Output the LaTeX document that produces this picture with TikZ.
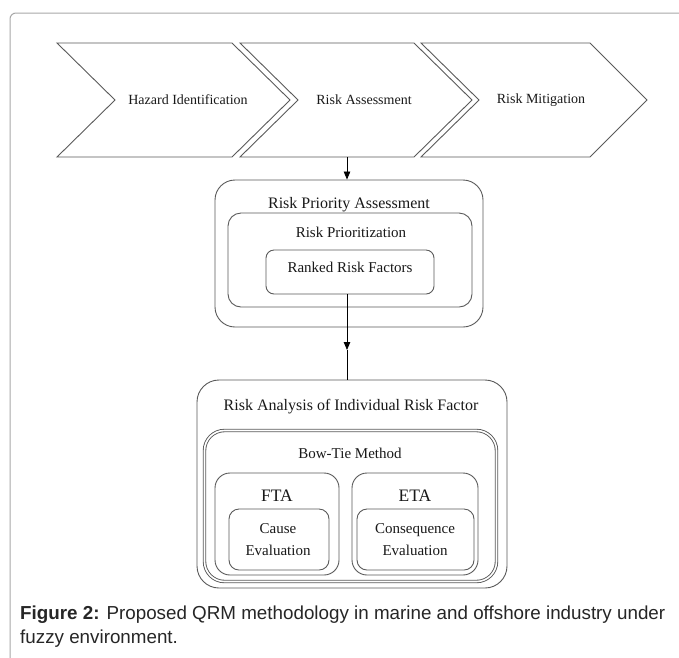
\documentclass[tikz,border=0pt]{standalone}
\usepackage{fontspec}
\setmainfont{Liberation Serif}
\newfontfamily\capfont{Liberation Sans}
\usetikzlibrary{arrows.meta}
\definecolor{edge}{HTML}{5A5A5A}
\definecolor{framec}{HTML}{A8A8A8}
\tikzset{
  chev/.style={draw=edge, line width=0.9pt, line join=miter},
  box/.style={draw=edge, line width=0.9pt, rectangle, inner sep=0pt},
  ttl/.style={inner sep=0pt, text=black!90},
  arr/.style={draw=black, line width=0.8pt, -{Triangle[length=8pt,width=6.5pt]}},
  plain/.style={draw=black, line width=0.8pt},
}
\newcommand{\fs}[1]{\fontsize{#1}{#1}\selectfont}
\begin{document}
\begin{tikzpicture}[x=1pt,y=-1pt]
\useasboundingbox (0,0) rectangle (679,657);
\fill[white] (0,0) rectangle (679,657);
\begin{scope}
  \clip (0,0) rectangle (679,657);
  \draw[framec, line width=1pt, rounded corners=6pt] (10,700) -- (10,13) -- (720,13);
\end{scope}

% chevrons
\draw[chev] (57,43) -- (232,43) -- (290,100) -- (232,157) -- (57,157) -- (115,100) -- cycle;
\draw[chev] (240,43) -- (414,43) -- (472,100) -- (414,157) -- (240,157) -- (298,100) -- cycle;
\draw[chev] (421,43) -- (590,43) -- (647,100) -- (590,157) -- (421,157) -- (479,100) -- cycle;
\node[ttl, font=\fs{14}] (hz) at (188,100) {Hazard Identification};
\node[ttl, font=\fs{14}] (ra1) at (364,100) {Risk Assessment};
\node[ttl, font=\fs{14}] (rm) at (541,100) {Risk Mitigation};
\coordinate (chevbot) at (347,157);

% risk priority assessment
\node[box, minimum width=268pt, minimum height=147pt, rounded corners=20pt] (rpa) at (349,253.5) {};
\node[box, minimum width=244pt, minimum height=94pt, rounded corners=13pt] (rp) at (350,260) {};
\node[box, minimum width=168pt, minimum height=44pt, rounded corners=8pt] (rrf) at (350,272) {};
\node[ttl, font=\fs{16}] (rpat) at (349,205) {Risk Priority Assessment};
\node[ttl, font=\fs{15}] (rpt) at (351,232) {Risk Prioritization};
\node[ttl, font=\fs{15}] (rrft) at (350,267) {Ranked Risk Factors};

% risk analysis
\node[box, minimum width=310pt, minimum height=208pt, rounded corners=22pt] (ra) at (352,484) {};
\node[box, double=white, double distance=1.6pt, minimum width=292pt, minimum height=151pt, rounded corners=20pt] (bt) at (350.5,506) {};
\node[box, minimum width=124pt, minimum height=102pt, rounded corners=15pt] (fta) at (277,524) {};
\node[box, minimum width=100pt, minimum height=61pt, rounded corners=10pt] (cause) at (279,539.5) {};
\node[box, minimum width=126pt, minimum height=102pt, rounded corners=15pt] (eta) at (415,524) {};
\node[box, minimum width=117pt, minimum height=61pt, rounded corners=10pt] (cons) at (415.5,539.5) {};
\node[ttl, font=\fs{16}] (rat) at (351,407) {Risk Analysis of Individual Risk Factor};
\node[ttl, font=\fs{15}] (btt) at (350,453) {Bow-Tie Method};
\node[ttl, font=\fs{17.5}] (ftat) at (277,496) {FTA};
\node[ttl, font=\fs{17.5}] (etat) at (415,496) {ETA};
\node[ttl, font=\fontsize{15}{22}\selectfont, align=center] (causet) at (278,539.5) {Cause\\Evaluation};
\node[ttl, font=\fontsize{15}{22}\selectfont, align=center] (const) at (415,539.5) {Consequence\\Evaluation};

% connectors
\draw[arr] (chevbot) -- (chevbot |- rpa.north);
\coordinate (mid) at (347,350);
\draw[arr] (rrf.south -| mid) -- (mid);
\draw[plain] (mid) -- (mid |- ra.north);

% caption
\node[inner sep=0pt, anchor=base west, align=left, font=\capfont\fontsize{18.8}{23.5}\selectfont, text=black!85] (cap) at (20,643)
  {\textbf{Figure 2:} Proposed QRM methodology in marine and offshore industry under\\fuzzy environment.};
\end{tikzpicture}
\end{document}
